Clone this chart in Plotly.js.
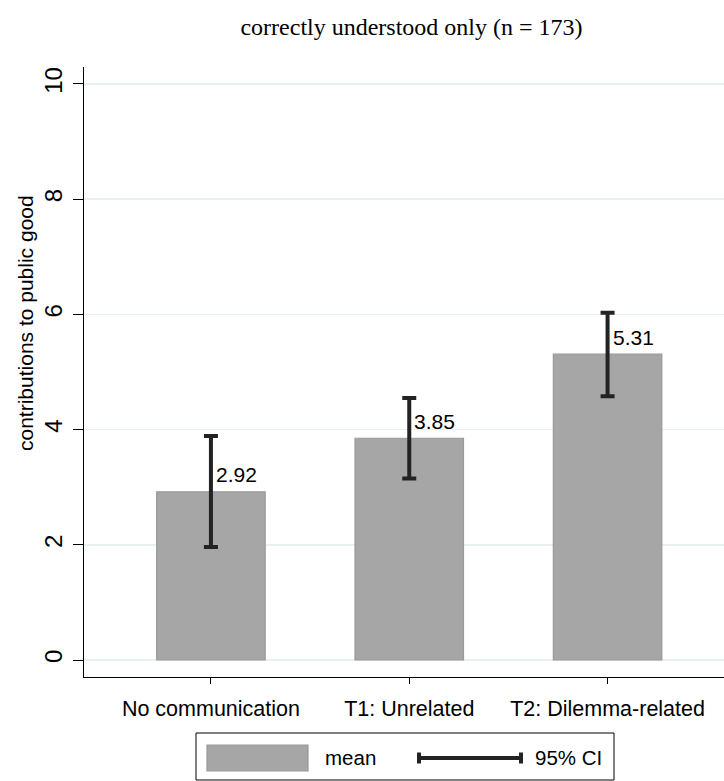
<!DOCTYPE html>
<html>
<head>
<meta charset="utf-8">
<script src="https://cdn.plot.ly/plotly-3.0.1.min.js"></script>
<style>html,body{margin:0;padding:0;background:#fff;}#chart{width:724px;height:781px;}</style>
</head>
<body>
<div id="chart"></div>
<script>
// ---- data ----
const categories = ["No communication", "T1: Unrelated", "T2: Dilemma-related"];
const means = [2.92, 3.85, 5.31];
const ciLow = [1.96, 3.15, 4.58];
const ciHigh = [3.89, 4.55, 6.03];
const yTicks = [0, 2, 4, 6, 8, 10];
const titleText = "correctly understood only (n = 173)";
const yTitle = "contributions to public good";
const legendLabels = ["mean", "95% CI"];

// ---- layout helpers (plot area: x 84..724, y 67..677) ----
const L = 84, R = 724, T = 67, B = 677;
const px = x => (x - L) / (R - L);
const py = y => (B - y) / (B - T);

const sans = "Liberation Sans, Arial, sans-serif";
const barFill = "#a6a6a6", barLine = "#999999", errCol = "#232323";

const traces = [{
  type: "bar",
  x: categories,
  y: means,
  width: 0.547,
  marker: { color: barFill, line: { color: barLine, width: 1.2 } },
  error_y: {
    type: "data", symmetric: false,
    array: ciHigh.map((h, i) => h - means[i]),
    arrayminus: ciLow.map((l, i) => means[i] - l),
    color: errCol, thickness: 4, width: 7
  },
  hoverinfo: "skip",
  showlegend: false
}];

const annotations = means.map((m, i) => ({
  x: categories[i], y: m, xref: "x", yref: "y",
  text: m.toFixed(2), showarrow: false,
  xanchor: "left", yanchor: "middle", xshift: 3, yshift: 17,
  font: { family: sans, size: 21, color: "#000" }
}));

annotations.push({
  xref: "paper", yref: "paper", x: px(25), y: py(323),
  text: yTitle, textangle: -90, showarrow: false,
  xanchor: "center", yanchor: "middle",
  font: { family: sans, size: 21, color: "#000" }
});
annotations.push({
  xref: "paper", yref: "paper", x: px(323), y: py(758),
  text: legendLabels[0], showarrow: false, xanchor: "left", yanchor: "middle",
  font: { family: sans, size: 20.5, color: "#000" }
});
annotations.push({
  xref: "paper", yref: "paper", x: px(533), y: py(758),
  text: legendLabels[1], showarrow: false, xanchor: "left", yanchor: "middle",
  font: { family: sans, size: 20.5, color: "#000" }
});

const shapes = [
  // legend frame
  { type: "rect", xref: "paper", yref: "paper", x0: px(196), x1: px(614), y0: py(780), y1: py(733),
    line: { color: "#000", width: 1 }, fillcolor: "#fff" },
  // mean swatch
  { type: "rect", xref: "paper", yref: "paper", x0: px(207), x1: px(308), y0: py(771), y1: py(745),
    line: { color: barLine, width: 1.2 }, fillcolor: barFill },
  // CI key line + caps
  { type: "line", xref: "paper", yref: "paper", x0: px(419), x1: px(521), y0: py(758), y1: py(758),
    line: { color: errCol, width: 4 } },
  { type: "line", xref: "paper", yref: "paper", x0: px(419), x1: px(419), y0: py(752.5), y1: py(763.5),
    line: { color: errCol, width: 4 } },
  { type: "line", xref: "paper", yref: "paper", x0: px(521), x1: px(521), y0: py(752.5), y1: py(763.5),
    line: { color: errCol, width: 4 } }
];

const layout = {
  width: 724, height: 781,
  margin: { l: L, r: 724 - R, t: T, b: 781 - B, pad: 0 },
  paper_bgcolor: "#fff", plot_bgcolor: "#fff",
  title: {
    text: titleText, xref: "container", yref: "container",
    x: 411.5 / 724, y: 1 - 27 / 781, xanchor: "center", yanchor: "middle",
    font: { family: "Liberation Serif, Times New Roman, serif", size: 24, color: "#000" }
  },
  xaxis: {
    type: "category", range: [-0.64, 2.587],
    showline: true, linecolor: "#000", linewidth: 1,
    ticks: "outside", ticklen: 6, tickwidth: 1, tickcolor: "#000",
    ticklabelstandoff: 6,
    showgrid: false, zeroline: false,
    tickfont: { family: sans, size: 21.5, color: "#000" },
    fixedrange: true
  },
  yaxis: {
    range: [-0.295, 10.295], tickvals: yTicks, ticktext: yTicks.map(String),
    tickangle: -90,
    showline: true, linecolor: "#000", linewidth: 1,
    ticks: "outside", ticklen: 10, tickwidth: 1, tickcolor: "#000",
    ticklabelstandoff: 1,
    showgrid: true, gridcolor: "#e8f0f2", gridwidth: 1.5,
    zeroline: false,
    tickfont: { family: sans, size: 24, color: "#000" },
    fixedrange: true
  },
  bargap: 0,
  showlegend: false,
  annotations: annotations,
  shapes: shapes
};

Plotly.newPlot("chart", traces, layout, { staticPlot: true, displayModeBar: false });
</script>
</body>
</html>
